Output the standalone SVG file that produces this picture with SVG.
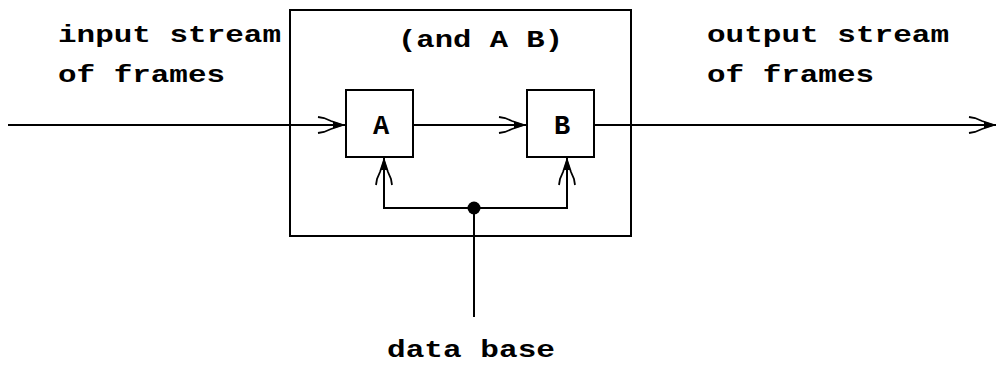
<svg xmlns="http://www.w3.org/2000/svg" width="997" height="365" viewBox="0 0 997 365">
<style>
  .ln{fill:none;stroke:#000;stroke-width:2}
  .box{fill:#fff;stroke:#000;stroke-width:2}
  .t{font-family:"Liberation Mono","Courier New",monospace;font-size:24px;font-weight:bold;fill:#000}
  .big{font-size:27px}
</style>
<defs>
  <marker id="arr" markerUnits="userSpaceOnUse" markerWidth="30" markerHeight="20" viewBox="-28 -10 30 20" refX="0" refY="0" orient="auto" overflow="visible">
    <path d="M-27,-8 L-21,-7 L-14,-4 L-2,0 M-27,8 L-21,7 L-14,4 L-2,0" fill="none" stroke="#000" stroke-width="1.8"/>
    <path d="M-12,-3.5 L0,0 L-12,3.5 Z" fill="#000"/>
  </marker>
</defs>
<rect width="997" height="365" fill="#fff"/>
<g id="outer"><rect class="box" x="290" y="10" width="341" height="226"/>
  <text class="t" x="398" y="47" textLength="165" lengthAdjust="spacingAndGlyphs">(and A B)</text></g>
<g id="input-label">
  <text class="t" x="58" y="42" textLength="223" lengthAdjust="spacingAndGlyphs">input stream</text>
  <text class="t" x="58" y="82" textLength="167" lengthAdjust="spacingAndGlyphs">of frames</text>
</g>
<g id="output-label">
  <text class="t" x="707" y="42" textLength="242" lengthAdjust="spacingAndGlyphs">output stream</text>
  <text class="t" x="707" y="82" textLength="167" lengthAdjust="spacingAndGlyphs">of frames</text>
</g>
<g id="nodeA"><rect class="box" x="346" y="90" width="67" height="67"/>
  <text class="t big" x="381" y="134" text-anchor="middle">A</text></g>
<g id="nodeB"><rect class="box" x="527" y="90" width="67" height="67"/>
  <text class="t big" x="562" y="134" text-anchor="middle">B</text></g>
<g id="database-label">
  <text class="t" x="387" y="357" textLength="168" lengthAdjust="spacingAndGlyphs">data base</text>
</g>
<g id="connectors">
  <path class="ln" d="M8,125 H345" marker-end="url(#arr)"/>
  <path class="ln" d="M413,125 H526" marker-end="url(#arr)"/>
  <path class="ln" d="M594,125 H996" marker-end="url(#arr)"/>
  <path class="ln" d="M474,208 H384 V158" marker-end="url(#arr)"/>
  <path class="ln" d="M474,208 H567 V158" marker-end="url(#arr)"/>
  <path class="ln" d="M474,208 V317"/>
  <circle cx="474" cy="208" r="6.5" fill="#000"/>
</g>
</svg>
